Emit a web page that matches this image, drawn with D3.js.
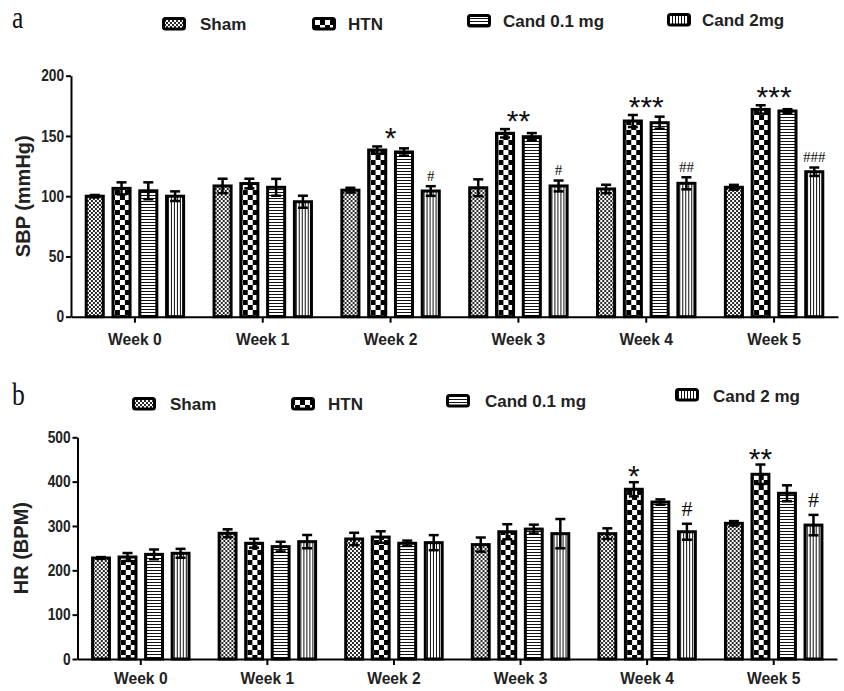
<!DOCTYPE html>
<html><head><meta charset="utf-8">
<script src="https://cdn.jsdelivr.net/npm/d3@7/dist/d3.min.js"></script>
<style>body{margin:0;background:#fff}svg{display:block}</style>
</head><body><svg id="c" width="844" height="691"></svg>
<script>
// ---------- DATA ----------
const weeks = ["Week 0","Week 1","Week 2","Week 3","Week 4","Week 5"];
const seriesKeys = ["sham","htn","cand01","cand2"];
const legendA = ["Sham","HTN","Cand 0.1 mg","Cand 2mg"];
const legendB = ["Sham","HTN","Cand 0.1 mg","Cand 2 mg"];

const sbpSham     = [100, 108.5, 105, 107, 106, 107.4];
const sbpShamErr  = [1, 6, 2, 7, 3.5, 2];
const sbpHTN      = [106.5, 110.5, 138.3, 152.2, 162.4, 172];
const sbpHTNErr   = [5, 4, 3, 3.5, 5, 3.5];
const sbpCand01   = [104.5, 107.4, 136.7, 149.4, 161, 170.7];
const sbpCand01Err= [7, 7, 3, 3, 5, 1.5];
const sbpCand2    = [100, 95.4, 104.3, 108.5, 110.7, 120.3];
const sbpCand2Err = [4, 5, 4, 4.5, 5, 3.5];
const sbpTicks    = [0, 50, 100, 150, 200];
const sbpStars    = ["", "", "*", "**", "***", "***"];
const sbpHashes   = ["", "", "#", "#", "##", "###"];

const hrSham      = [227.8, 283.5, 270.7, 258, 282.7, 306];
const hrShamErr   = [2, 9, 14, 16, 12, 5];
const hrHTN       = [230, 261, 275, 287, 382.8, 416.6];
const hrHTNErr    = [9, 10, 13, 17, 16, 22];
const hrCand01    = [236, 253.4, 261, 293, 354, 373.7];
const hrCand01Err = [11, 11, 6, 10, 6, 18];
const hrCand2     = [238.4, 264.7, 262.4, 282.7, 287, 302];
const hrCand2Err  = [10, 15, 17, 33, 18, 23];
const hrTicks     = [0, 100, 200, 300, 400, 500];
const hrStars     = ["", "", "", "", "*", "**"];
const hrHashes    = ["", "", "", "", "#", "#"];

// ---------- SETUP ----------
const svg = d3.select("#c");
const defs = svg.append("defs");
const SANS = "'Liberation Sans', Arial, Helvetica, sans-serif";
const SERIF = "'Liberation Serif', 'Times New Roman', serif";

// patterns
function pat(id, w, h, draw){
  const p = defs.append("pattern").attr("id", id).attr("patternUnits","userSpaceOnUse")
    .attr("width", w).attr("height", h);
  p.append("rect").attr("width", w).attr("height", h).attr("fill", "#fff");
  draw(p);
}
pat("p-sham", 4, 4, p => {
  p.append("rect").attr("x",0).attr("y",0).attr("width",2).attr("height",2).attr("fill","#2a2a2a");
  p.append("rect").attr("x",2).attr("y",2).attr("width",2).attr("height",2).attr("fill","#2a2a2a");
});
pat("p-htn", 10, 10, p => {
  p.append("rect").attr("x",0).attr("y",0).attr("width",5).attr("height",5).attr("fill","#000");
  p.append("rect").attr("x",5).attr("y",5).attr("width",5).attr("height",5).attr("fill","#000");
});
pat("p-cand01", 6, 3, p => {
  p.append("rect").attr("x",0).attr("y",0).attr("width",6).attr("height",1).attr("fill","#111");
});
pat("p-cand2", 3, 6, p => {
  p.append("rect").attr("x",0).attr("y",0).attr("width",1).attr("height",6).attr("fill","#111");
});
const fills = {sham:"url(#p-sham)", htn:"url(#p-htn)", cand01:"url(#p-cand01)", cand2:"url(#p-cand2)"};

function buildRows(vals, errs){
  return weeks.map((w,i) => ({week:w, bars: seriesKeys.map((k,j)=>({key:k, value: vals[j][i], err: errs[j][i]}))}));
}

function drawPanel(cfg){
  const g = svg.append("g");
  const x = d3.scaleBand().domain(weeks).range([cfg.x0, cfg.x1]).padding(0);
  const y = d3.scaleLinear().domain([0, d3.max(cfg.ticks)]).range([cfg.yBot, cfg.yTop]);
  const gw = x.bandwidth()*0.762;
  const xi = d3.scaleBand().domain(seriesKeys).range([-gw/2, gw/2]).paddingInner(0.363).paddingOuter(0);
  const rows = buildRows(cfg.vals, cfg.errs);

  // bars
  const grp = g.selectAll("g.grp").data(rows).join("g")
    .attr("transform", d => `translate(${x(d.week)+x.bandwidth()/2},0)`);
  grp.selectAll("rect").data(d=>d.bars).join("rect")
    .attr("x", d => xi(d.key)).attr("width", xi.bandwidth())
    .attr("y", d => y(d.value)).attr("height", d => y(0)-y(d.value))
    .attr("fill", d => fills[d.key]).attr("stroke","#000").attr("stroke-width",3);

  // error bars
  const eb = grp.selectAll("g.eb").data(d=>d.bars).join("g").attr("class","eb")
    .attr("transform", d => `translate(${xi(d.key)+xi.bandwidth()/2},0)`)
    .attr("stroke","#000").attr("stroke-width",2.5);
  eb.append("line").attr("x1",0).attr("x2",0).attr("y1",d=>y(d.value-d.err)).attr("y2",d=>y(d.value+d.err));
  eb.append("line").attr("x1",-5).attr("x2",5).attr("y1",d=>y(d.value+d.err)).attr("y2",d=>y(d.value+d.err));
  eb.append("line").attr("x1",-5).attr("x2",5).attr("y1",d=>y(d.value-d.err)).attr("y2",d=>y(d.value-d.err));

  // axes
  const ya = g.append("g").attr("transform",`translate(${cfg.x0},0)`)
    .call(d3.axisLeft(y).tickValues(cfg.ticks).tickSize(5).tickSizeOuter(0).tickPadding(3));
  const xa = g.append("g").attr("transform",`translate(0,${cfg.yBot})`)
    .call(d3.axisBottom(x).tickSize(6).tickSizeOuter(0).tickPadding(cfg.xPad));
  [ya, xa].forEach(a => {
    a.select(".domain").attr("stroke","#000").attr("stroke-width",2);
    a.selectAll(".tick line").attr("stroke","#000").attr("stroke-width",2);
  });
  ya.selectAll("text").attr("font-family",SANS).attr("font-weight","bold").attr("font-size",16)
    .attr("fill","#222").attr("transform","scale(0.86,1)");
  xa.selectAll("text").attr("font-family",SANS).attr("font-weight","bold").attr("font-size",17)
    .attr("fill","#222").attr("transform","scale(0.92,1)");

  // y title
  g.append("text").attr("transform",`translate(${cfg.titleX},${(cfg.yTop+cfg.yBot)/2}) rotate(-90)`)
    .attr("text-anchor","middle").attr("dy","0.35em")
    .attr("font-family",SANS).attr("font-weight","bold").attr("font-size",20).attr("fill","#222")
    .text(cfg.title);

  // annotations
  rows.forEach((r,i) => {
    const cx = x(r.week)+x.bandwidth()/2;
    if (cfg.stars[i]) {
      let sx, top;
      if (cfg.starAt === "center") {
        sx = cx;
        top = Math.min(y(r.bars[1].value+r.bars[1].err), y(r.bars[2].value+r.bars[2].err));
      } else {
        sx = cx + xi("htn") + xi.bandwidth()/2;
        top = y(r.bars[1].value+r.bars[1].err);
      }
      g.append("text").attr("x",sx).attr("y", top - cfg.starGap + 17)
        .attr("text-anchor","middle").attr("font-family",SANS).attr("font-size",30).attr("fill","#111")
        .text(cfg.stars[i]);
    }
    if (cfg.hashes[i]) {
      const hx = cx + xi("cand2") + xi.bandwidth()/2;
      const top = y(r.bars[3].value+r.bars[3].err);
      g.append("text").attr("x",hx).attr("y", top - cfg.hashGap + cfg.hashSize*0.33)
        .attr("text-anchor","middle").attr("font-family",SERIF).attr("font-size",cfg.hashSize).attr("fill","#111")
        .text(cfg.hashes[i]);
    }
  });
}

drawPanel({x0:71, x1:838, yTop:75.7, yBot:316.7, ticks:sbpTicks,
  vals:[sbpSham,sbpHTN,sbpCand01,sbpCand2], errs:[sbpShamErr,sbpHTNErr,sbpCand01Err,sbpCand2Err],
  title:"SBP (mmHg)", titleX:23, xPad:10, stars:sbpStars, hashes:sbpHashes, starAt:"center",
  starGap:15, hashGap:10, hashSize:15});
drawPanel({x0:77.5, x1:837, yTop:437.3, yBot:659, ticks:hrTicks,
  vals:[hrSham,hrHTN,hrCand01,hrCand2], errs:[hrShamErr,hrHTNErr,hrCand01Err,hrCand2Err],
  title:"HR (BPM)", titleX:21, xPad:7, stars:hrStars, hashes:hrHashes, starAt:"htn",
  starGap:13, hashGap:15, hashSize:22});

// panel letters
svg.append("text").attr("transform","translate(12,28) scale(0.8,1)").attr("font-family",SERIF)
  .attr("font-size",32).attr("fill","#111").text("a");
svg.append("text").attr("transform","translate(12,405) scale(0.8,1)").attr("font-family",SERIF)
  .attr("font-size",32).attr("fill","#111").text("b");

// legends
function legend(labels, pos){
  labels.forEach((lab,i) => {
    const p = pos[i];
    svg.append("rect").attr("x",p.x+1.5).attr("y",p.y+1.5).attr("width",21).attr("height",10.5)
      .attr("rx",2).attr("fill",fills[seriesKeys[i]]).attr("stroke","#000").attr("stroke-width",3);
    svg.append("text").attr("x",p.tx).attr("y",p.base).attr("font-family",SANS).attr("font-weight","bold")
      .attr("font-size",17).attr("fill","#222").text(lab);
  });
}
legend(legendA, [{x:162,y:17,tx:200,base:30},{x:312,y:17,tx:348,base:30},{x:467,y:14,tx:503,base:27},{x:667,y:13,tx:702,base:26}]);
legend(legendB, [{x:132,y:397,tx:170,base:410},{x:291,y:397,tx:328,base:410},{x:446,y:394,tx:485,base:407},{x:675,y:388,tx:713,base:401.5}]);
</script></body></html>
